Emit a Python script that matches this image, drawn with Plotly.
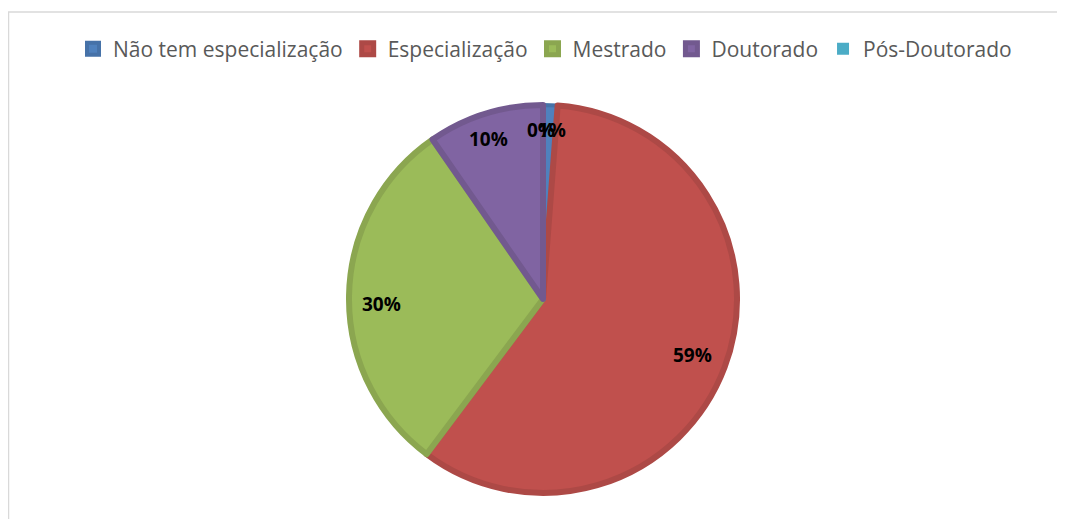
import math
import plotly.graph_objects as go

# Data
categories = ["Não tem especialização", "Especialização", "Mestrado", "Doutorado", "Pós-Doutorado"]
counts = [1, 49, 25, 8, 0]

COLORS = ["#4F81BD", "#C0504D", "#9BBB59", "#8064A2", "#4BACC6"]
BORDERS = ["#4672A8", "#AD4946", "#8BA650", "#72598F", "#43A0B8"]
BORDER_W = [4, 6, 6, 6, 0]

W, H = 1065, 519
# the page body adds an 8px offset, so figure coords = window coords - 8
cx, cy, r = 535, 291, 194  # pie centre / radius in pixels

fig = go.Figure(go.Pie(
    labels=categories,
    values=counts,
    sort=False,
    direction="clockwise",
    rotation=0,
    textinfo="none",
    hoverinfo="label+percent",
    marker=dict(colors=COLORS, line=dict(color=BORDERS, width=BORDER_W)),
    domain=dict(x=[(cx - r) / W, (cx + r) / W], y=[1 - (cy + r) / H, 1 - (cy - r) / H]),
))

# percent labels, placed along each slice's mid angle (Excel "best fit" look)
label_radius = [0.86, 0.81, 0.82, 0.85, 0.86]
label_dx = [3, 0, 0, -5, -2]
label_dy = [0, 0, 8, 0, 0]
total = sum(counts)
start = 0.0
for i, v in enumerate(counts):
    span = v / total * 360
    mid = math.radians(start + span / 2)
    start += span
    rr = (r + 3) * label_radius[i]
    px_x = cx + rr * math.sin(mid) + label_dx[i]
    px_y = cy - rr * math.cos(mid) + label_dy[i]
    fig.add_annotation(
        x=px_x / W, y=1 - px_y / H, xref="paper", yref="paper",
        xanchor="center", yanchor="middle",
        text=f"{round(v / total * 100)}%", showarrow=False,
        font=dict(family="Open Sans", size=19, color="#000000", weight="bold"),
    )

# chart area frame (light grey, cut off by the window at right/bottom)
fig.add_shape(type="line", xref="paper", yref="paper",
              x0=0, x1=1.0, y0=1 - 4 / H, y1=1 - 4 / H,
              line=dict(color="#D9D9D9", width=1.5))
fig.add_shape(type="line", xref="paper", yref="paper",
              x0=0.5 / W, x1=0.5 / W, y0=0, y1=1 - 4 / H,
              line=dict(color="#D9D9D9", width=1.5))

fig.update_layout(
    width=W, height=H,
    margin=dict(l=0, r=0, t=0, b=0),
    paper_bgcolor="white",
    plot_bgcolor="white",
    showlegend=True,
    legend=dict(
        orientation="h", x=(545 - 8) / W, xanchor="center", y=1 - 41 / H, yanchor="middle",
        font=dict(family="Open Sans", size=21, color="#595959"),
        itemwidth=30, tracegroupgap=0,
    ),
)

fig.write_html("out.html")
